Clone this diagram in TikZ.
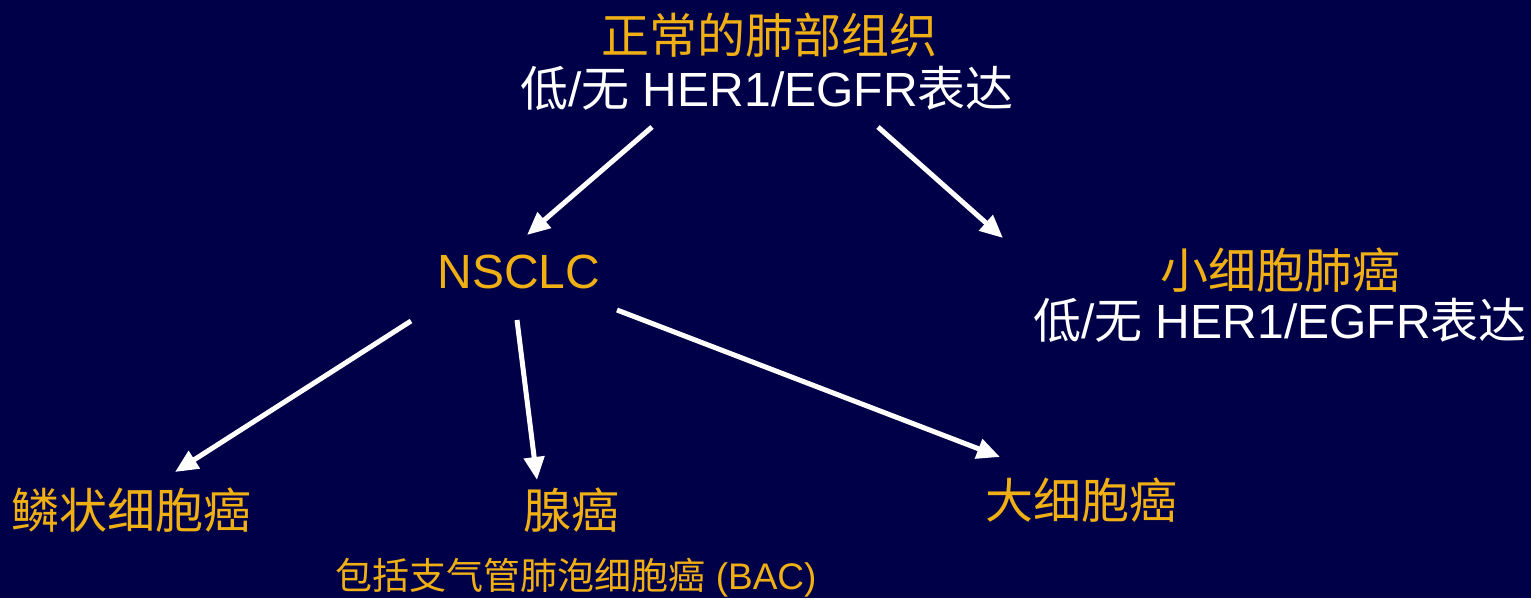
\documentclass[tikz,border=0pt]{standalone}
\usepackage{fontspec}
\setmainfont{Liberation Sans}
\newfontfamily\cjk{Noto Sans CJK SC}
\usetikzlibrary{arrows.meta}
\definecolor{bgnavy}{RGB}{0,0,72}
\definecolor{gold}{RGB}{240,176,20}
\tikzset{
  lbl/.style={inner sep=0pt, anchor=center, font=\fontsize{48}{50}\selectfont},
  goldlbl/.style={lbl, text=gold},
  whitelbl/.style={lbl, text=white},
  smalllbl/.style={inner sep=0pt, anchor=center, text=gold, font=\fontsize{37}{40}\selectfont},
  arr/.style={draw=white, line width=5pt, -{Triangle[length=23pt,width=20pt]}}
}
\begin{document}
\begin{tikzpicture}[x=1pt,y=-1pt]
\fill[bgnavy] (0,0) rectangle (1531,598);
\useasboundingbox (0,0) rectangle (1531,598);
\node[goldlbl] (normal) at (769,35) {\cjk 正常的肺部组织};
\node[whitelbl] (normalexp) at (767,88) {{\cjk 低}/{\cjk 无} HER1/EGFR{\cjk 表达}};
\node[goldlbl] (nsclc) at (519,272) {NSCLC};
\node[goldlbl] (sclc) at (1280,270) {\cjk 小细胞肺癌};
\node[whitelbl] (sclcexp) at (1280,320) {{\cjk 低}/{\cjk 无} HER1/EGFR{\cjk 表达}};
\node[goldlbl] (squam) at (132,510) {\cjk 鳞状细胞癌};
\node[goldlbl] (adeno) at (571,510) {\cjk 腺癌};
\node[smalllbl] (bac) at (576,578) {{\cjk 包括支气管肺泡细胞癌} (BAC)};
\node[goldlbl] (large) at (1081,500) {\cjk 大细胞癌};
\coordinate (a1s) at (652,127); \coordinate (a1e) at (527,235);
\coordinate (a2s) at (878,127); \coordinate (a2e) at (1003,238);
\coordinate (a3s) at (411,321); \coordinate (a3e) at (175,472);
\coordinate (a4s) at (517,320); \coordinate (a4e) at (537,480);
\coordinate (a5s) at (617,310); \coordinate (a5e) at (1000,457);
\draw[arr] (a1s) -- (a1e);
\draw[arr] (a2s) -- (a2e);
\draw[arr] (a3s) -- (a3e);
\draw[arr] (a4s) -- (a4e);
\draw[arr] (a5s) -- (a5e);
\end{tikzpicture}
\end{document}
